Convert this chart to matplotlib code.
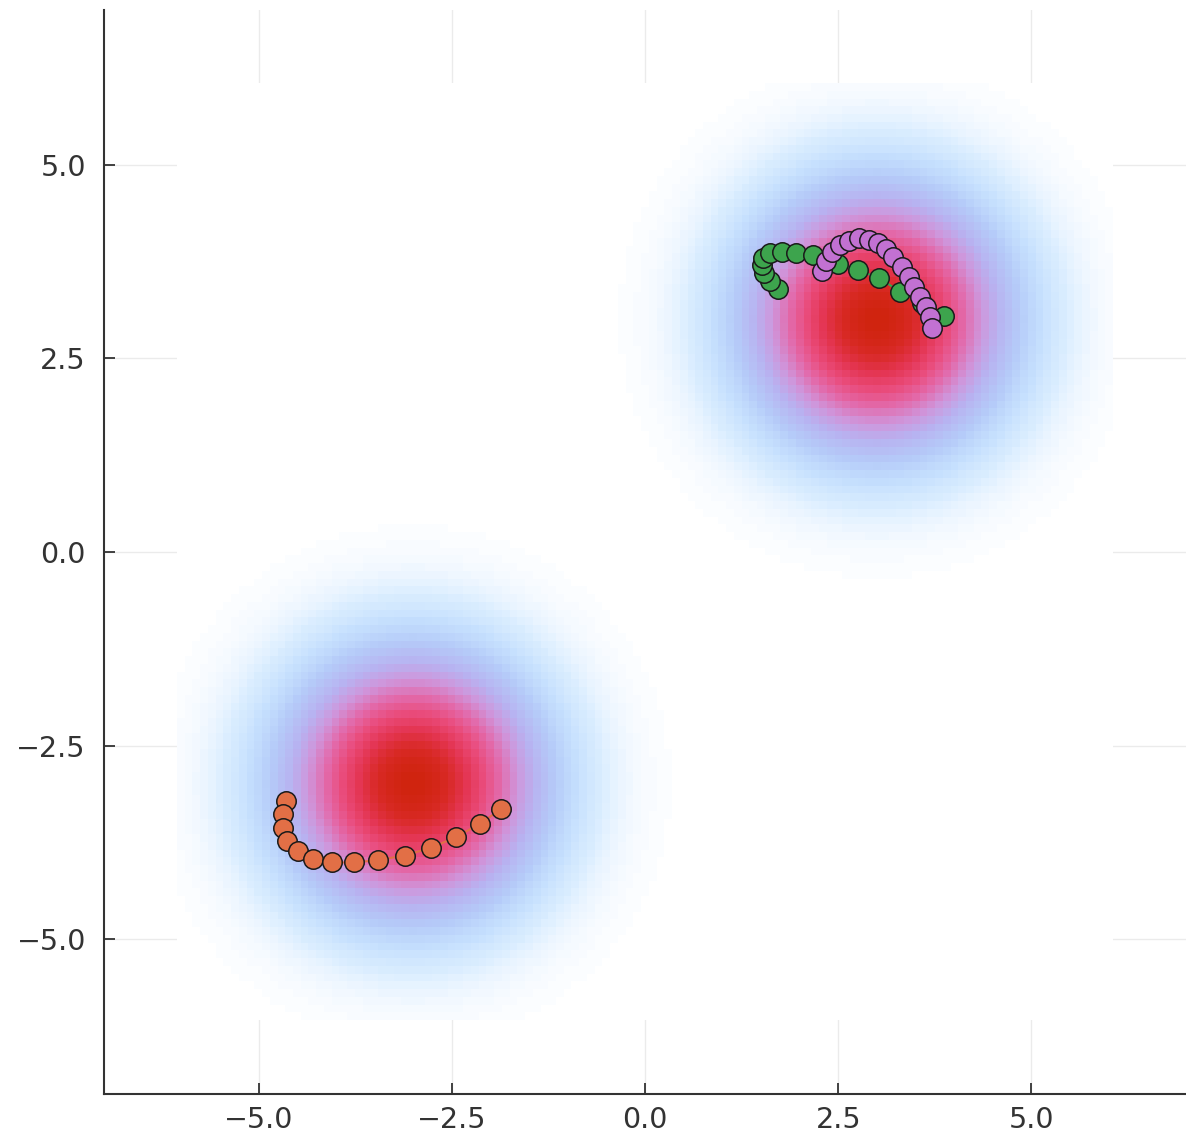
import numpy as np
import matplotlib
matplotlib.use("Agg")
import matplotlib.pyplot as plt
from matplotlib.colors import LinearSegmentedColormap
from matplotlib.ticker import FuncFormatter

# density heatmap: two gaussian blobs on a 0.1 grid
grid_x = np.round(np.arange(-6, 6.0001, 0.1), 2)
grid_y = np.round(np.arange(-6, 6.0001, 0.1), 2)
blob_centers = [(3.0, 3.0), (-3.0, -3.0)]
blob_sigma = 1.0

# trajectories
orange_x = [-4.64, -4.69, -4.69, -4.63, -4.49, -4.30, -4.05, -3.76, -3.46, -3.11, -2.77, -2.44, -2.14, -1.86]
orange_y = [-3.21, -3.39, -3.57, -3.73, -3.86, -3.97, -4.01, -4.01, -3.98, -3.92, -3.82, -3.68, -3.51, -3.32]

green_x = [1.72, 1.62, 1.54, 1.51, 1.53, 1.62, 1.77, 1.96, 2.18, 2.50, 2.75, 3.03, 3.30, 3.58, 3.87]
green_y = [3.40, 3.50, 3.60, 3.71, 3.80, 3.86, 3.88, 3.86, 3.83, 3.72, 3.64, 3.54, 3.36, 3.22, 3.05]

purple_x = [2.29, 2.34, 2.42, 2.52, 2.64, 2.77, 2.90, 3.01, 3.12, 3.21, 3.32, 3.41, 3.48, 3.56, 3.64, 3.69, 3.71]
purple_y = [3.63, 3.76, 3.88, 3.97, 4.02, 4.05, 4.03, 3.99, 3.91, 3.81, 3.68, 3.55, 3.42, 3.29, 3.16, 3.04, 2.89]

xticks = [-5.0, -2.5, 0.0, 2.5, 5.0]
yticks = [-5.0, -2.5, 0.0, 2.5, 5.0]

X, Y = np.meshgrid(grid_x, grid_y)
Z = np.zeros_like(X)
for cx, cy in blob_centers:
    Z += np.exp(-((X - cx)**2 + (Y - cy)**2) / (2 * blob_sigma**2))
Z = Z / Z.max()

cmap = LinearSegmentedColormap.from_list("blobs", [
    (0.000, "#ffffff"),
    (0.005, "#fbfdff"),
    (0.020, "#eff7ff"),
    (0.050, "#d9edff"),
    (0.100, "#c6e0fe"),
    (0.180, "#b5cbf9"),
    (0.290, "#b8b3f1"),
    (0.400, "#cf96dc"),
    (0.530, "#e36aab"),
    (0.660, "#ea4c7c"),
    (0.790, "#e43552"),
    (0.900, "#d92a26"),
    (1.000, "#d0240f"),
])

def minus_fmt(v, pos):
    return ("%.1f" % v).replace("-", "\u2212")

fig = plt.figure(figsize=(11.86, 11.44), dpi=100)
ax = fig.add_axes([104/1186, 50/1144, 1082/1186, 1084/1144])

ax.grid(True, color="#ebebeb", linewidth=1.0)
ax.set_axisbelow(True)

dx = grid_x[1] - grid_x[0]
ax.imshow(Z, cmap=cmap, origin="lower", interpolation="nearest", aspect="auto",
          extent=[grid_x[0]-dx/2, grid_x[-1]+dx/2, grid_y[0]-dx/2, grid_y[-1]+dx/2],
          zorder=1, vmin=0, vmax=1)

for xs, ys, col in [(orange_x, orange_y, "#e26f46"),
                    (green_x, green_y, "#3da44d"),
                    (purple_x, purple_y, "#c271d2")]:
    ax.plot(xs, ys, color=col, linewidth=1.5, zorder=3)
    ax.plot(xs, ys, linestyle="none", marker="o", markersize=14,
            markerfacecolor=col, markeredgecolor="#1a1a1a", markeredgewidth=1.1, zorder=4)

ax.set_xlim(-7, 7)
ax.set_ylim(-7, 7)
ax.set_xticks(xticks)
ax.set_yticks(yticks)
ax.xaxis.set_major_formatter(FuncFormatter(minus_fmt))
ax.yaxis.set_major_formatter(FuncFormatter(minus_fmt))

for s in ["top", "right"]:
    ax.spines[s].set_visible(False)
for s in ["left", "bottom"]:
    ax.spines[s].set_color("#333333")
    ax.spines[s].set_linewidth(1.5)
    ax.spines[s].set_zorder(5)

ax.tick_params(axis="both", direction="in", length=8, width=1.3, color="#333333",
               labelsize=20.5, labelcolor="#333333")
ax.tick_params(axis="x", pad=8.5)
ax.tick_params(axis="y", pad=13)

fig.savefig("out.png", dpi=100)
